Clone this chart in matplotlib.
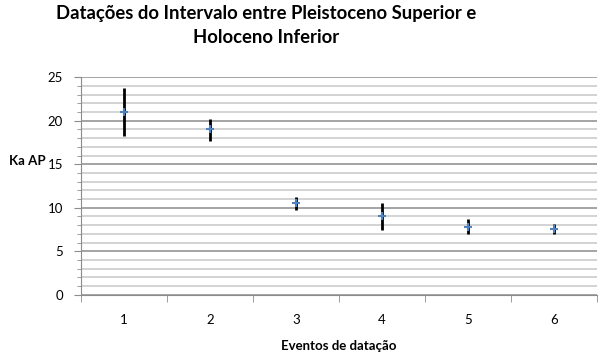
import numpy as np
import matplotlib.pyplot as plt
from matplotlib.ticker import MultipleLocator, FixedLocator

plt.rcParams['font.family'] = ['Lato', 'DejaVu Sans']

# dados
eventos = [1, 2, 3, 4, 5, 6]
idade = [21.0, 19.0, 10.5, 9.05, 7.85, 7.55]
erro_inf = [2.8, 1.3, 0.75, 1.6, 0.9, 0.6]
erro_sup = [2.7, 1.2, 0.7, 1.55, 0.85, 0.6]

fig = plt.figure(figsize=(6.04, 3.57), dpi=100)
ax = fig.add_axes([0.134, 0.174, 0.854, 0.61])

ax.errorbar(eventos, idade, yerr=[erro_inf, erro_sup], fmt='none',
            ecolor='black', elinewidth=2, capsize=0, zorder=3)
ax.plot(eventos, idade, linestyle='none', marker='+', markersize=6,
        markeredgewidth=1.5, color='#4F81BD', zorder=4)

ax.set_xlim(0.5, 6.5)
ax.set_ylim(0, 25)
ax.yaxis.set_major_locator(MultipleLocator(5))
ax.yaxis.set_minor_locator(MultipleLocator(1))
ax.xaxis.set_major_locator(FixedLocator(eventos))
ax.xaxis.set_minor_locator(FixedLocator(np.arange(0.5, 7, 1)))

ax.grid(which='major', axis='y', color='#8c8c8c', linewidth=1.1)
ax.grid(which='minor', axis='y', color='#c8c8c8', linewidth=1.1)
ax.set_axisbelow(True)

for s in ['top', 'right']:
    ax.spines[s].set_visible(False)
ax.spines['left'].set_color('#8c8c8c')
ax.spines['bottom'].set_color('#8c8c8c')

ax.tick_params(axis='x', which='major', length=0, pad=14, labelsize=9.5)
ax.tick_params(axis='x', which='minor', length=5, color='#8c8c8c')
ax.tick_params(axis='y', which='major', length=5, color='#8c8c8c', labelsize=9.5, pad=8)
ax.tick_params(axis='y', which='minor', length=3, color='#8c8c8c')

ax.set_xlabel('Eventos de datação', fontsize=9.5, fontweight='bold', labelpad=10)
fig.text(0.015, 0.548, 'Ka AP', fontsize=9.5, fontweight='bold', va='center')

fig.text(0.44, 0.985, 'Datações do Intervalo entre Pleistoceno Superior e\nHoloceno Inferior',
         fontsize=13.3, fontweight='bold', ha='center', va='top',
         multialignment='center', linespacing=1.5)

fig.savefig('out.png', dpi=100)
